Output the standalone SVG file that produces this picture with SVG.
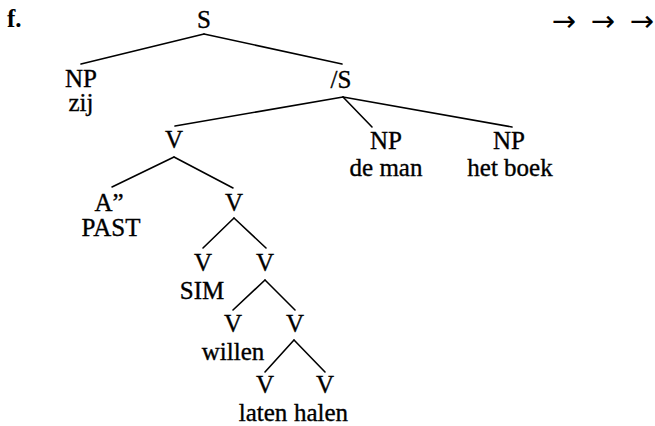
<svg xmlns="http://www.w3.org/2000/svg" width="655" height="426" viewBox="0 0 655 426">
  <style>
    text { font-family: "Liberation Serif", "DejaVu Serif", serif; font-size: 25px; fill: #000; stroke: #000; stroke-width: 0.35; text-anchor: middle; }
    .label { font-weight: bold; text-anchor: start; stroke-width: 0; }
    .arrow { font-family: "DejaVu Sans", sans-serif; font-size: 29px; stroke-width: 0; }
    .edges line { stroke: #000; stroke-width: 1.6; stroke-linecap: round; }
  </style>
  <rect width="655" height="426" fill="#fff"/>

  <text class="label" x="7" y="27">f.</text>
  <text class="arrow" id="arrows" x="564 603 642" y="31">→→→</text>

  <g class="edges" id="connectors">
    <line x1="204" y1="34" x2="81" y2="64"/>
    <line x1="204" y1="34" x2="342" y2="64"/>
    <line x1="343" y1="97" x2="175" y2="126"/>
    <line x1="343" y1="97" x2="372" y2="127"/>
    <line x1="343" y1="97" x2="512" y2="127"/>
    <line x1="174" y1="157" x2="112" y2="187"/>
    <line x1="174" y1="157" x2="233" y2="188"/>
    <line x1="234" y1="218" x2="203" y2="248"/>
    <line x1="234" y1="218" x2="266" y2="248"/>
    <line x1="265" y1="280" x2="233" y2="310"/>
    <line x1="265" y1="280" x2="295" y2="310"/>
    <line x1="294" y1="340" x2="265" y2="372"/>
    <line x1="294" y1="340" x2="325" y2="372"/>
  </g>

  <g id="n-S"><text x="204" y="28">S</text></g>
  <g id="n-NP-zij"><text x="81" y="87">NP</text><text x="81" y="111">zij</text></g>
  <g id="n-slashS"><text x="341" y="88">/S</text></g>
  <g id="n-V1"><text x="174" y="148">V</text></g>
  <g id="n-NP-deman"><text x="386" y="149">NP</text><text x="386" y="176">de man</text></g>
  <g id="n-NP-hetboek"><text x="509" y="149">NP</text><text x="510" y="176">het boek</text></g>
  <g id="n-A"><text x="109" y="211">A”</text><text x="111" y="236">PAST</text></g>
  <g id="n-V2"><text x="234" y="211">V</text></g>
  <g id="n-V-sim"><text x="203" y="271">V</text><text x="202" y="299">SIM</text></g>
  <g id="n-V3"><text x="265" y="271">V</text></g>
  <g id="n-V-willen"><text x="233" y="332">V</text><text x="233" y="360">willen</text></g>
  <g id="n-V4"><text x="295" y="332">V</text></g>
  <g id="n-V-laten"><text x="265" y="393">V</text><text x="263" y="421">laten</text></g>
  <g id="n-V-halen"><text x="325" y="393">V</text><text x="321" y="421">halen</text></g>
</svg>
